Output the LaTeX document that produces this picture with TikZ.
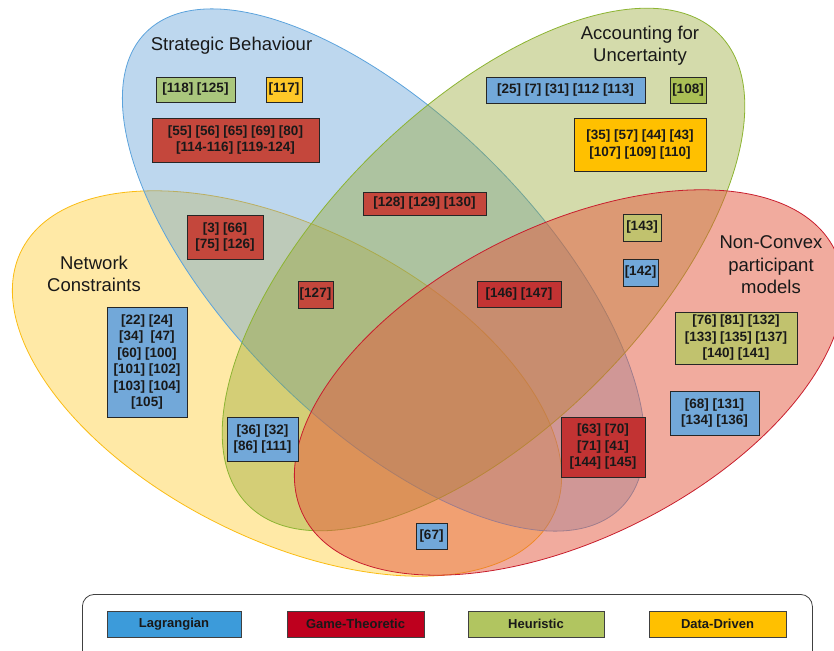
\documentclass[tikz,border=0pt]{standalone}
\usepackage{fontspec}
\setmainfont{Liberation Sans}
\usetikzlibrary{shapes.geometric}
\definecolor{ylwfill}{RGB}{255,192,0}
\definecolor{ylwline}{RGB}{250,188,20}
\definecolor{bluefill}{RGB}{91,155,213}
\definecolor{blueline}{RGB}{91,163,220}
\definecolor{grnfill}{RGB}{148,165,45}
\definecolor{grnline}{RGB}{140,180,50}
\definecolor{redfill}{RGB}{228,88,62}
\definecolor{redline}{RGB}{200,30,45}
\definecolor{lagbox}{RGB}{114,168,217}
\definecolor{gameA}{RGB}{196,71,60}
\definecolor{gameB}{RGB}{194,51,51}
\definecolor{heurA}{RGB}{170,199,125}
\definecolor{heurB}{RGB}{170,191,85}
\definecolor{heurC}{RGB}{193,194,110}
\definecolor{dataA}{RGB}{255,200,40}
\definecolor{dataB}{RGB}{255,192,0}
\definecolor{legLag}{RGB}{60,155,218}
\definecolor{legGame}{RGB}{190,0,30}
\definecolor{legHeur}{RGB}{177,197,96}
\definecolor{legData}{RGB}{255,192,0}
\tikzset{
  venn/.style={ellipse, inner sep=0pt, outer sep=0pt, line width=0.8pt},
  refbox/.style={draw=black!85, line width=0.8pt, inner sep=0pt, align=center,
    font=\bfseries\fontsize{13.5}{16.5}\selectfont, text=black!90},
  legbox/.style={draw=black!75, line width=0.8pt, inner sep=0pt, align=center,
    minimum height=26pt, font=\bfseries\fontsize{13}{15}\selectfont, text=black!90},
  settitle/.style={align=center, inner sep=0pt, text=black!90,
    font=\fontsize{18.5}{22.5}\selectfont}
}
\begin{document}
\begin{tikzpicture}[x=1pt,y=-1pt]
\useasboundingbox (0,0) rectangle (834,650);
\clip (0,0) rectangle (834,650);

% sets
\node[venn, rotate=-26.6, minimum width=594pt, minimum height=312pt,
  fill=ylwfill, fill opacity=0.35, draw=ylwline] (network) at (287,383.5) {};
\node[venn, rotate=-45, minimum width=672pt, minimum height=306pt,
  fill=bluefill, fill opacity=0.4, draw=blueline] (strategic) at (383.5,270) {};
\node[venn, rotate=45, minimum width=666pt, minimum height=320pt,
  fill=grnfill, fill opacity=0.4, draw=grnline] (uncert) at (483.5,269.5) {};
\node[venn, rotate=26.6, minimum width=594pt, minimum height=312pt,
  fill=redfill, fill opacity=0.5, draw=redline] (nonconvex) at (569,382.5) {};

% titles
\node[settitle] (tStrat) at (231.5,46) {Strategic Behaviour};
\node[settitle] (tUnc) at (640,45.5) {Accounting for\\Uncertainty};
\node[settitle] (tNet) at (94,274) {Network\\Constraints};
\node[settitle] (tNC) at (771,265) {Non-Convex\\participant\\models};

% reference boxes
\node[refbox, fill=heurA, minimum width=79pt, minimum height=25pt] (b1) at (195.5,89.5) {[118] [125]};
\node[refbox, fill=dataA, minimum width=36pt, minimum height=25pt] (b2) at (284,89.5) {[117]};
\node[refbox, fill=gameA, minimum width=167pt, minimum height=44pt] (b3) at (235.5,140) {[55] [56] [65] [69] [80]\\{}[114-116] [119-124]};
\node[refbox, fill=gameA, minimum width=76pt, minimum height=44pt] (b4) at (225,237) {[3] [66]\\{}[75] [126]};
\node[refbox, fill=gameA, minimum width=123pt, minimum height=23pt] (b5) at (424.5,203.5) {[128] [129] [130]};
\node[refbox, fill=gameA, minimum width=35pt, minimum height=27pt] (b6) at (315.5,294.5) {[127]};
\node[refbox, fill=gameB, minimum width=84pt, minimum height=26pt] (b7) at (519,294) {[146] [147]};
\node[refbox, fill=lagbox, minimum width=159pt, minimum height=26pt] (b8) at (565.5,90) {[25] [7] [31] [112 [113]};
\node[refbox, fill=heurB, minimum width=36pt, minimum height=26pt] (b9) at (688,90) {[108]};
\node[refbox, fill=dataB, minimum width=132pt, minimum height=53pt] (b10) at (640,144.5) {[35] [57] [44] [43]\\{}[107] [109] [110]};
\node[refbox, fill=heurC, minimum width=38pt, minimum height=27pt] (b11) at (642,227.5) {[143]};
\node[refbox, fill=lagbox, minimum width=35pt, minimum height=27pt] (b12) at (640.5,272.5) {[142]};
\node[refbox, fill=lagbox, minimum width=80pt, minimum height=110pt] (b13) at (147,362) {[22] [24]\\{}[34]\ \ [47]\\{}[60] [100]\\{}[101] [102]\\{}[103] [104]\\{}[105]};
\node[refbox, fill=lagbox, minimum width=71pt, minimum height=44pt] (b14) at (262.5,439) {[36] [32]\\{}[86] [111]};
\node[refbox, fill=lagbox, minimum width=31pt, minimum height=26pt] (b15) at (431.5,536) {[67]};
\node[refbox, fill=gameB, minimum width=84pt, minimum height=60pt] (b16) at (603,447) {[63] [70]\\{}[71] [41]\\{}[144] [145]};
\node[refbox, fill=heurC, minimum width=122pt, minimum height=52pt] (b17) at (736,338) {[76] [81] [132]\\{}[133] [135] [137]\\{}[140] [141]};
\node[refbox, fill=lagbox, minimum width=89pt, minimum height=44pt] (b18) at (714.5,413) {[68] [131]\\{}[134] [136]};

% legend
\node[draw=black!75, line width=0.8pt, rounded corners=12pt, fill=white,
  minimum width=730pt, minimum height=80pt, anchor=north west, inner sep=0pt] (legend) at (82,594) {};
\node[legbox, fill=legLag, minimum width=134pt] (lLag) at (174,624) {Lagrangian};
\node[legbox, fill=legGame, minimum width=137pt] (lGame) at (355.5,624) {Game-Theoretic};
\node[legbox, fill=legHeur, minimum width=136pt] (lHeur) at (536,624) {Heuristic};
\node[legbox, fill=legData, minimum width=137pt] (lData) at (717.5,624) {Data-Driven};
\end{tikzpicture}
\end{document}
